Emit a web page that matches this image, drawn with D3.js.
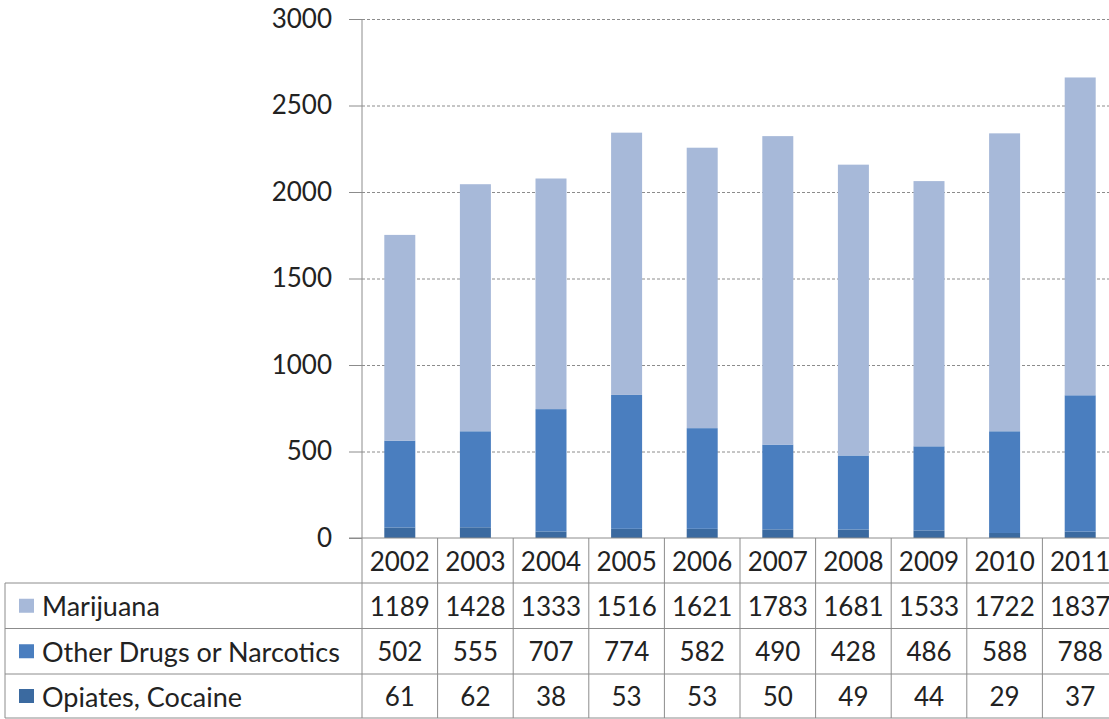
<!DOCTYPE html>
<html>
<head>
<meta charset="utf-8">
<script src="https://cdn.jsdelivr.net/npm/d3@7"></script>
<style>
  html, body { margin: 0; padding: 0; background: #fff; }
  svg { display: block; }
  text { font-family: Lato, "Open Sans", sans-serif; fill: #222; }
</style>
</head>
<body>
<svg id="chart" width="1109" height="719"></svg>
<script>
// Yearly counts by drug category
const years = ["2002", "2003", "2004", "2005", "2006", "2007", "2008", "2009", "2010", "2011"];
const marijuana = [1189, 1428, 1333, 1516, 1621, 1783, 1681, 1533, 1722, 1837];
const otherDrugs = [502, 555, 707, 774, 582, 490, 428, 486, 588, 788];
const opiates = [61, 62, 38, 53, 53, 50, 49, 44, 29, 37];
const yTicks = [0, 500, 1000, 1500, 2000, 2500, 3000];

// Series listed top row first, as in the data table
const seriesNames = ["Marijuana", "Other Drugs or Narcotics", "Opiates, Cocaine"];
const seriesValues = [marijuana, otherDrugs, opiates];
const seriesColors = ["#a7b9d9", "#4a7ebf", "#3b6aa0"];

const svg = d3.select("#chart");
const plotLeft = 362, plotTop = 19, plotBottom = 538, colW = 75.6;
const numSize = 26, nameSize = 27;

const x = d3.scaleBand().domain(years).range([plotLeft, plotLeft + colW * years.length]).padding(0);
const y = d3.scaleLinear().domain([0, 3000]).range([plotBottom, plotTop]);

// Dashed horizontal gridlines
const grid = svg.append("g")
  .attr("transform", `translate(${plotLeft},0)`)
  .call(d3.axisLeft(y).tickValues(yTicks.filter(t => t > 0)).tickSize(-(1109 - plotLeft)).tickFormat(""));
grid.select(".domain").remove();
grid.selectAll("line").attr("stroke", "#8c8c8c").attr("stroke-dasharray", "3,2").attr("stroke-width", 1);

// Stacked bars, bottom to top: opiates, other drugs, marijuana
const rows = years.map((yr, i) => ({ year: yr, opiates: opiates[i], other: otherDrugs[i], marijuana: marijuana[i] }));
const stack = d3.stack().keys(["opiates", "other", "marijuana"]);
const stacked = stack(rows);
const stackColors = { opiates: seriesColors[2], other: seriesColors[1], marijuana: seriesColors[0] };
const barW = x.bandwidth() * 0.41;

svg.append("g").selectAll("g")
  .data(stacked).join("g")
  .attr("fill", d => stackColors[d.key])
  .selectAll("rect")
  .data(d => d).join("rect")
  .attr("x", d => x(d.data.year) + (x.bandwidth() - barW) / 2)
  .attr("width", barW)
  .attr("y", d => y(d[1]))
  .attr("height", d => y(d[0]) - y(d[1]));

// Value axis
const yAxis = svg.append("g")
  .attr("transform", `translate(${plotLeft},0)`)
  .call(d3.axisLeft(y).tickValues(yTicks).tickSize(13).tickPadding(17).tickFormat(d3.format("d")));
yAxis.select(".domain").attr("stroke", "#8c8c8c").attr("d", `M0,${plotTop}V${plotBottom}`);
yAxis.selectAll("line").attr("stroke", "#8c8c8c");
yAxis.selectAll("text").style("font-family", "Lato, sans-serif").style("font-size", numSize + "px").attr("fill", "#222");

// Baseline
svg.append("line")
  .attr("x1", plotLeft - 13).attr("x2", 1109)
  .attr("y1", plotBottom).attr("y2", plotBottom)
  .attr("stroke", "#8c8c8c");

// Data table under the plot
const rowLines = [583, 628.5, 674, 718];
const headerMid = (plotBottom + rowLines[0]) / 2;
const tableLeft = 5;
const lineColor = "#8c8c8c";
const table = svg.append("g");

// Horizontal rules
rowLines.forEach(yy => {
  table.append("line").attr("x1", tableLeft).attr("x2", 1109)
    .attr("y1", yy).attr("y2", yy).attr("stroke", lineColor);
});
// Outer left edge of the legend column
table.append("line").attr("x1", tableLeft).attr("x2", tableLeft)
  .attr("y1", rowLines[0]).attr("y2", rowLines[3]).attr("stroke", lineColor);
// Column separators
years.forEach(yr => {
  table.append("line").attr("x1", x(yr)).attr("x2", x(yr))
    .attr("y1", plotBottom).attr("y2", rowLines[3]).attr("stroke", lineColor);
});

// Year headers
table.selectAll("text.year").data(years).join("text")
  .attr("class", "year")
  .attr("x", d => x(d) + x.bandwidth() / 2)
  .attr("y", headerMid)
  .attr("text-anchor", "middle").attr("dominant-baseline", "central")
  .style("font-size", numSize + "px")
  .text(d => d);

// Series rows: legend key, name and values
seriesNames.forEach((name, r) => {
  const mid = (rowLines[r] + rowLines[r + 1]) / 2;
  table.append("rect").attr("x", 19).attr("y", mid - 7).attr("width", 15).attr("height", 14)
    .attr("fill", seriesColors[r]);
  table.append("text").attr("x", 42).attr("y", mid)
    .attr("dominant-baseline", "central")
    .style("font-size", nameSize + "px")
    .text(name);
  table.selectAll(null).data(seriesValues[r]).join("text")
    .attr("x", (d, i) => x(years[i]) + x.bandwidth() / 2)
    .attr("y", mid)
    .attr("text-anchor", "middle").attr("dominant-baseline", "central")
    .style("font-size", numSize + "px")
    .text(d => d);
});
</script>
</body>
</html>
